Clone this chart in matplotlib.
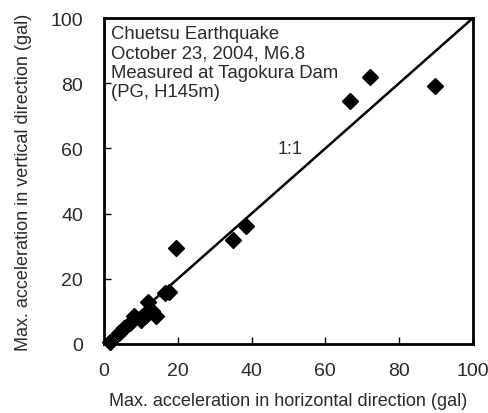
import numpy as np
import matplotlib
matplotlib.use("Agg")
import matplotlib.pyplot as plt

plt.rcParams['font.family'] = ['Liberation Sans', 'DejaVu Sans']

# Peak accelerations recorded at the dam (gal)
horizontal = [1.5, 4.0, 5.5, 7.0, 8.0, 10.0, 11.0, 12.0, 12.0, 13.0, 14.0,
              16.5, 17.5, 19.5, 35.0, 38.4, 66.7, 72.1, 89.7]
vertical = [0.5, 3.5, 5.0, 6.5, 8.5, 7.5, 8.5, 9.5, 13.0, 10.0, 8.5,
            15.5, 16.0, 29.3, 32.0, 36.3, 74.7, 82.0, 79.0]

ticks = [0, 20, 40, 60, 80, 100]
note = "Chuetsu Earthquake\nOctober 23, 2004, M6.8\nMeasured at Tagokura Dam\n(PG, H145m)"
ink = '#2a2a2a'

fig = plt.figure(figsize=(4.89, 4.14), dpi=100)
ax = fig.add_axes([0.2127, 0.1667, 0.7543, 0.7873])

ax.plot([0, 100], [0, 100], color='black', lw=1.8, zorder=2)
ax.plot(horizontal, vertical, linestyle='none', marker='D', markersize=8.5,
        color='black', zorder=3, clip_on=False)

ax.text(47, 60, "1:1", fontsize=13, color=ink, va='center')
ax.text(2, 98, note, fontsize=13.3, color=ink, va='top', ha='left',
        linespacing=1.2)

ax.set_xlim(0, 100)
ax.set_ylim(0, 100)
ax.set_xticks(ticks)
ax.set_yticks(ticks)
ax.tick_params(direction='in', length=5, width=1, labelsize=14,
               labelcolor=ink)
ax.tick_params(axis='x', pad=13)
ax.tick_params(axis='y', pad=15)
for s in ax.spines.values():
    s.set_linewidth(2)

ax.set_xlabel("Max. acceleration in horizontal direction (gal)", fontsize=13,
              color=ink, labelpad=9.5)
ax.set_ylabel("Max. acceleration in vertical direction (gal)", fontsize=13,
              color=ink, labelpad=13)

fig.savefig("out.png", dpi=100)
